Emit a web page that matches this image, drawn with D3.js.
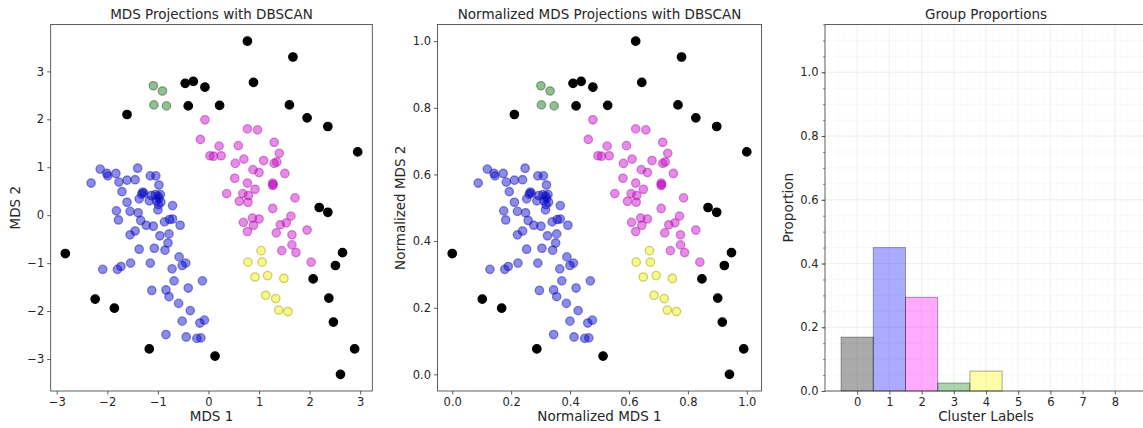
<!DOCTYPE html>
<html><head><meta charset="utf-8">
<script src="https://cdn.jsdelivr.net/npm/d3@7"></script>
<style>
body{margin:0;background:#fff;}
svg{display:block;}
text{font-family:"DejaVu Sans",sans-serif;fill:#262626;}
</style></head>
<body>
<svg id="chart" width="1143" height="428"></svg>
<script>
// ---------- data ----------
const clusterLabels = [0, 1, 2, 3, 4];              // 0 = noise (DBSCAN -1)
const barColors     = ["#000000", "#0000ff", "#ff00ff", "#008000", "#ffff00"];
const pointColors   = ["#000000", "#0000cc", "#c800c8", "#0a700a", "#f0f000"];
const pointEdges    = ["#000000", "#1c1cb0", "#b020b0", "#2c5c2c", "#a0a000"];

const noisePts = [[0.77,3.63],[1.67,3.30],[-0.46,2.75],[-0.30,2.79],[-0.07,2.67],[0.89,2.77],[-1.61,2.10],
  [-0.40,2.28],[0.22,2.29],[1.60,2.30],[1.95,2.03],[2.36,1.85],[2.95,1.32],[2.19,0.16],[2.36,0.06],
  [-2.83,-0.80],[2.65,-0.78],[2.51,-1.05],[2.07,-1.33],[-2.24,-1.75],[-1.86,-1.94],[2.38,-1.73],
  [2.47,-2.23],[-1.17,-2.79],[0.13,-2.94],[2.89,-2.79],[2.61,-3.32]];

const bluePts = [[-2.32,0.67],[-2.14,0.96],[-2.01,0.87],[-1.99,0.82],[-1.83,0.87],[-1.77,0.69],[-1.61,0.73],
  [-1.45,0.74],[-1.40,0.98],[-1.71,0.49],[-1.15,0.82],[-1.04,0.82],[-0.98,0.63],[-1.30,0.48],[-1.32,0.44],
  [-1.37,0.34],[-1.13,0.41],[-1.05,0.43],[-0.95,0.43],[-1.17,0.30],[-1.03,0.30],[-0.99,0.22],[-1.00,0.11],
  [-0.94,0.27],[-1.61,0.27],[-0.71,0.20],[-1.82,0.09],[-1.55,0.08],[-1.39,0.05],[-1.78,-0.10],[-1.34,-0.11],
  [-1.23,-0.21],[-1.09,-0.23],[-0.87,-0.14],[-0.77,-0.09],[-0.71,-0.08],[-0.56,-0.21],[-1.45,-0.33],
  [-1.55,-0.41],[-0.96,-0.43],[-0.78,-0.39],[-0.80,-0.58],[-1.37,-0.71],[-1.07,-0.69],[-0.86,-0.73],
  [-0.58,-0.87],[-2.09,-1.13],[-1.80,-1.13],[-1.73,-1.07],[-1.54,-1.00],[-1.15,-1.00],[-0.72,-1.12],
  [-0.52,-1.05],[-0.45,-1.00],[-0.68,-1.37],[-0.12,-1.37],[-1.12,-1.57],[-0.84,-1.56],[-0.78,-1.70],
  [-0.40,-1.52],[-0.59,-1.84],[-0.36,-1.99],[-0.52,-2.21],[-0.17,-2.25],[-0.08,-2.19],[-0.84,-2.49],
  [-0.44,-2.54],[-0.23,-2.57],[-0.15,-2.56],[-1.28,0.46],[-1.00,0.40],[-0.98,0.35]];

const magentaPts = [[-0.07,1.99],[-0.16,1.58],[0.21,1.44],[0.03,1.24],[0.10,1.23],[0.25,1.24],[0.77,1.80],
  [0.97,1.78],[0.59,1.45],[1.30,1.52],[1.40,1.29],[0.53,1.08],[0.70,1.17],[1.09,1.14],[1.30,1.08],
  [1.35,1.11],[0.88,0.95],[1.00,0.89],[0.52,0.77],[1.51,0.87],[0.77,0.67],[1.27,0.67],[1.27,0.62],
  [0.36,0.45],[0.68,0.45],[0.79,0.41],[0.92,0.54],[0.61,0.29],[0.78,0.27],[1.71,0.36],[1.27,0.14],
  [0.87,-0.06],[1.00,-0.08],[0.69,-0.15],[0.89,-0.21],[1.63,-0.02],[1.42,-0.20],[1.54,-0.16],[1.95,-0.31],
  [0.77,-0.34],[1.34,-0.37],[1.65,-0.41],[1.45,-0.74],[1.65,-0.62],[1.73,-0.78],[2.03,-0.98],[1.28,0.64]];

const greenPts = [[-1.09,2.70],[-0.91,2.59],[-1.08,2.30],[-0.83,2.28]];

const yellowPts = [[1.04,-0.74],[0.78,-0.98],[1.06,-0.98],[0.92,-1.29],[1.17,-1.26],[1.49,-1.32],
  [1.13,-1.67],[1.33,-1.74],[1.39,-1.98],[1.57,-2.01]];

const proportions = [0.169, 0.45, 0.294, 0.025, 0.0625];
const barTicks = [0, 1, 2, 3, 4, 5, 6, 7, 8];
const mdsTicks = [-3, -2, -1, 0, 1, 2, 3];
const normTicks = [0, 0.2, 0.4, 0.6, 0.8, 1.0];
const propTicks = [0, 0.2, 0.4, 0.6, 0.8, 1.0];

// ---------- assemble ----------
const groups = [noisePts, bluePts, magentaPts, greenPts, yellowPts];
const points = [];
groups.forEach((g, ci) => g.forEach(p => points.push({x: p[0], y: p[1], c: clusterLabels[ci]})));

const svg = d3.select("#chart");
const TOP = 24.5, BOT = 391;
const panels = [
  {l: 50.7, r: 372.3},
  {l: 437.5, r: 761.5},
  {l: 825, r: 1147}
];

function pad(ext) { const m = (ext[1] - ext[0]) * 0.05; return [ext[0] - m, ext[1] + m]; }

function styleAxis(g) {
  g.selectAll(".domain").remove();
  g.selectAll(".tick line").attr("stroke", "#333").attr("stroke-width", 0.8);
  g.selectAll(".tick text").attr("font-size", "11.5px").attr("fill", "#262626")
    .attr("font-family", "DejaVu Sans, sans-serif");
}
function frame(p) {
  svg.append("rect").attr("x", p.l).attr("y", TOP).attr("width", p.r - p.l).attr("height", BOT - TOP)
    .attr("fill", "none").attr("stroke", "#3a3a3a").attr("stroke-width", 0.8);
}
function labels(p, title, xl, yl, ylx) {
  const cx = p === panels[2] ? 986 : (p.l + p.r) / 2;
  svg.append("text").attr("x", cx).attr("y", 19).attr("text-anchor", "middle")
    .attr("font-size", "13.5px").text(title);
  svg.append("text").attr("x", cx).attr("y", 421).attr("text-anchor", "middle")
    .attr("font-size", "13.5px").text(xl);
  svg.append("text").attr("transform", `translate(${ylx},${(TOP + BOT) / 2}) rotate(-90)`)
    .attr("text-anchor", "middle").attr("font-size", "13.5px").text(yl);
}

function scatterPanel(p, xs, ys, xTicks, yTicks, fmt, getX, getY) {
  const gx = svg.append("g").attr("transform", `translate(0,${BOT})`)
    .call(d3.axisBottom(xs).tickValues(xTicks).tickSize(3.5).tickPadding(3).tickFormat(fmt));
  styleAxis(gx);
  const gy = svg.append("g").attr("transform", `translate(${p.l},0)`)
    .call(d3.axisLeft(ys).tickValues(yTicks).tickSize(3.5).tickPadding(3).tickFormat(fmt));
  styleAxis(gy);
  svg.append("g").selectAll("circle").data(points).join("circle")
    .attr("cx", d => xs(getX(d))).attr("cy", d => ys(getY(d))).attr("r", 4.2)
    .attr("fill", d => pointColors[d.c])
    .attr("fill-opacity", d => d.c === 0 ? 1 : 0.45)
    .attr("stroke", d => pointEdges[d.c])
    .attr("stroke-opacity", d => d.c === 0 ? 1 : 0.5)
    .attr("stroke-width", 1.3);
  frame(p);
}

// Panel 1: raw MDS
const xExt = d3.extent(points, d => d.x), yExt = d3.extent(points, d => d.y);
const x1 = d3.scaleLinear().domain(pad(xExt)).range([panels[0].l, panels[0].r]);
const y1 = d3.scaleLinear().domain(pad(yExt)).range([BOT, TOP]);
scatterPanel(panels[0], x1, y1, mdsTicks, mdsTicks, d3.format("d"), d => d.x, d => d.y);
labels(panels[0], "MDS Projections with DBSCAN", "MDS 1", "MDS 2", 20);

// Panel 2: min-max normalized MDS
const nx = d3.scaleLinear().domain(xExt).range([0, 1]);
const ny = d3.scaleLinear().domain(yExt).range([0, 1]);
const x2 = d3.scaleLinear().domain(pad([0, 1])).range([panels[1].l, panels[1].r]);
const y2 = d3.scaleLinear().domain(pad([0, 1])).range([BOT, TOP]);
scatterPanel(panels[1], x2, y2, normTicks, normTicks, d3.format(".1f"), d => nx(d.x), d => ny(d.y));
labels(panels[1], "Normalized MDS Projections with DBSCAN", "Normalized MDS 1", "Normalized MDS 2", 405);

// Panel 3: group proportions
const p3 = panels[2];
const x3 = d3.scaleLinear().domain([-1, 9]).range([p3.l, p3.r]);
const y3 = d3.scaleLinear().domain([0, 1.15]).range([BOT, TOP]);
const grid = svg.append("g");
d3.range(0, 1.151, 0.05).forEach(v => grid.append("line").attr("x1", p3.l).attr("x2", p3.r)
  .attr("y1", y3(v)).attr("y2", y3(v)).attr("stroke", "#f3f3f3").attr("stroke-width", 0.7));
d3.range(-1, 9.01, 0.2).forEach(v => grid.append("line").attr("y1", TOP).attr("y2", BOT)
  .attr("x1", x3(v)).attr("x2", x3(v)).attr("stroke", "#f7f7f7").attr("stroke-width", 0.5));
barTicks.forEach(v => grid.append("line").attr("y1", TOP).attr("y2", BOT)
  .attr("x1", x3(v)).attr("x2", x3(v)).attr("stroke", "#eeeeee").attr("stroke-width", 0.8));
propTicks.forEach(v => grid.append("line").attr("x1", p3.l).attr("x2", p3.r)
  .attr("y1", y3(v)).attr("y2", y3(v)).attr("stroke", "#ededed").attr("stroke-width", 0.8));

svg.append("g").selectAll("rect").data(proportions).join("rect")
  .attr("x", (d, i) => x3(clusterLabels[i] - 0.5)).attr("width", x3(1) - x3(0))
  .attr("y", d => y3(d)).attr("height", d => BOT - y3(d))
  .attr("fill", (d, i) => barColors[i]).attr("fill-opacity", 0.33)
  .attr("stroke", "#000").attr("stroke-opacity", 0.35).attr("stroke-width", 1);

const gx3 = svg.append("g").attr("transform", `translate(0,${BOT})`)
  .call(d3.axisBottom(x3).tickValues(barTicks).tickSize(3.5).tickPadding(3).tickFormat(d3.format("d")));
styleAxis(gx3);
const gy3 = svg.append("g").attr("transform", `translate(${p3.l},0)`)
  .call(d3.axisLeft(y3).tickValues(propTicks).tickSize(3.5).tickPadding(3).tickFormat(d3.format(".1f")));
styleAxis(gy3);
svg.append("g").attr("transform", `translate(${p3.l},0)`)
  .call(d3.axisLeft(y3).tickValues(d3.range(0, 1.151, 0.05)).tickSize(2).tickFormat(""))
  .call(g => { g.selectAll(".domain").remove(); g.selectAll("line").attr("stroke", "#333").attr("stroke-width", 0.6); });
frame(p3);
labels(p3, "Group Proportions", "Cluster Labels", "Proportion", 793);
</script>
</body></html>
